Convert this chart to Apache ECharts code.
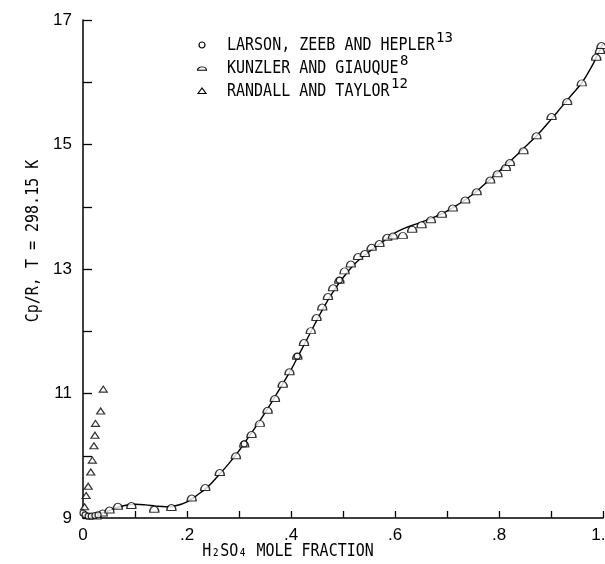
<!DOCTYPE html>
<html>
<head>
<meta charset="utf-8">
<script src="https://cdn.jsdelivr.net/npm/echarts@6/dist/echarts.min.js"></script>
<style>
  html, body { margin: 0; padding: 0; background: #fff; }
  #chart { width: 605px; height: 564px; }
</style>
</head>
<body>
<div id="chart"></div>
<script>
// Smoothed heat-capacity curve, Cp/R vs. H2SO4 mole fraction at 298.15 K
const curveX = [0, 0.01, 0.02, 0.04, 0.06, 0.08, 0.10, 0.12, 0.14, 0.16, 0.18, 0.20, 0.22, 0.24,
  0.26, 0.28, 0.30, 0.32, 0.34, 0.36, 0.38, 0.40, 0.42, 0.44, 0.46, 0.48, 0.50, 0.52, 0.54,
  0.56, 0.58, 0.60, 0.62, 0.64, 0.66, 0.68, 0.70, 0.72, 0.74, 0.76, 0.78, 0.80, 0.82, 0.84,
  0.86, 0.88, 0.90, 0.92, 0.94, 0.96, 0.98, 0.99, 1.00];
const curveY = [9.10, 9.05, 9.05, 9.09, 9.15, 9.20, 9.22, 9.21, 9.19, 9.18, 9.20, 9.26, 9.37, 9.50,
  9.68, 9.87, 10.08, 10.32, 10.56, 10.82, 11.10, 11.38, 11.70, 12.02, 12.34, 12.62, 12.86, 13.06, 13.21,
  13.34, 13.46, 13.58, 13.66, 13.72, 13.78, 13.85, 13.93, 14.03, 14.14, 14.27, 14.42, 14.57, 14.72, 14.88,
  15.04, 15.21, 15.40, 15.60, 15.80, 16.00, 16.28, 16.45, 16.62];

// Larson, Zeeb and Hepler
const larsonX = [0.000, 0.004, 0.010, 0.016, 0.023, 0.029, 0.310, 0.412, 0.493];
const larsonY = [9.08, 9.05, 9.03, 9.03, 9.04, 9.05, 10.19, 11.60, 12.82];

// Kunzler and Giauque
const kunzlerX = [0.026, 0.038, 0.051, 0.067, 0.093, 0.137, 0.170, 0.209, 0.235, 0.263, 0.294,
  0.310, 0.324, 0.340, 0.355, 0.369, 0.384, 0.397, 0.412, 0.425, 0.438, 0.449, 0.460, 0.471,
  0.481, 0.493, 0.503, 0.515, 0.529, 0.542, 0.555, 0.570, 0.585, 0.596, 0.615, 0.633, 0.651,
  0.669, 0.690, 0.711, 0.735, 0.757, 0.783, 0.797, 0.813, 0.821, 0.847, 0.872, 0.901, 0.931,
  0.959, 0.987, 0.994, 0.997];
const kunzlerY = [9.03, 9.08, 9.13, 9.19, 9.20, 9.14, 9.17, 9.32, 9.49, 9.73, 10.00,
  10.19, 10.34, 10.52, 10.73, 10.92, 11.15, 11.35, 11.60, 11.82, 12.01, 12.22, 12.39, 12.56,
  12.70, 12.82, 12.97, 13.08, 13.20, 13.25, 13.35, 13.41, 13.51, 13.53, 13.54, 13.64, 13.71,
  13.79, 13.88, 13.98, 14.11, 14.24, 14.43, 14.53, 14.63, 14.71, 14.90, 15.14, 15.45, 15.69,
  15.99, 16.40, 16.51, 16.59];

// Randall and Taylor
const randallX = [0.003, 0.006, 0.010, 0.015, 0.018, 0.021, 0.023, 0.024, 0.034, 0.039];
const randallY = [9.18, 9.36, 9.51, 9.74, 9.93, 10.16, 10.33, 10.52, 10.72, 11.07];

const xTickLabels = { '0': '0', '0.2': '.2', '0.4': '.4', '0.6': '.6', '0.8': '.8', '1': '1.0' };
const yTickLabels = { '9': '9', '11': '11', '13': '13', '15': '15', '17': '17' };

const seriesNames = ['LARSON, ZEEB AND HEPLER', 'KUNZLER AND GIAUQUE', 'RANDALL AND TAYLOR'];
const seriesRefs = ['13', '8', '12'];

const zip = (xs, ys) => xs.map((x, i) => [x, ys[i]]);

const domePath = 'path://M0,10 C0,-2.5 14,-2.5 14,10 Z';
const mono = '"DejaVu Sans Mono", "Liberation Mono", monospace';
const sans = '"Liberation Sans Narrow", "Liberation Sans", Arial, sans-serif';
const markerStyle = { color: '#fff', borderColor: '#000', borderWidth: 1.2 };

const chart = echarts.init(document.getElementById('chart'), null, { renderer: 'canvas' });

// legend rows drawn as graphic elements so the reference numbers can be superscripted
const legendRows = [];
const legendSymbols = [
  { type: 'circle', shape: { cx: 0, cy: 0, r: 3 } },
  { type: 'sector', scaleY: 0.75, shape: { cx: 0, cy: 3, r: 4.5, r0: 0, startAngle: Math.PI, endAngle: 2 * Math.PI } },
  { type: 'polygon', shape: { points: [[-4, 2.5], [0, -3], [4, 2.5]] } }
];
seriesNames.forEach((name, i) => {
  const cy = 45 + i * 23;
  legendRows.push(Object.assign({}, legendSymbols[i], {
    x: 202, y: cy,
    style: { fill: '#fff', stroke: '#000', lineWidth: 1.2 }
  }));
  legendRows.push({
    type: 'text', x: 227, y: cy, scaleY: 1.2,
    style: { text: name, font: '15px ' + mono, fill: '#000', textVerticalAlign: 'middle' }
  });
  legendRows.push({
    type: 'text', x: 227 + name.length * 9 + 2, y: cy - 7,
    style: { text: seriesRefs[i], font: '14px ' + mono, fill: '#000', textVerticalAlign: 'middle' }
  });
});

chart.setOption({
  animation: false,
  backgroundColor: '#fff',
  grid: { left: 83, right: 2, top: 20, bottom: 46, containLabel: false, outerBoundsMode: 'none' },
  xAxis: {
    type: 'value', min: 0, max: 1, interval: 0.1,
    axisLine: { show: true, lineStyle: { color: '#000', width: 1.5 } },
    axisTick: { show: true, inside: true, length: 7, lineStyle: { color: '#000', width: 1.3 } },
    splitLine: { show: false },
    axisLabel: {
      margin: 9, color: '#000', fontSize: 17, fontFamily: sans,
      formatter: v => xTickLabels[String(Math.round(v * 10) / 10)] || ''
    }
  },
  yAxis: {
    type: 'value', min: 9, max: 17, interval: 1,
    axisLine: { show: true, lineStyle: { color: '#000', width: 1.5 } },
    axisTick: { show: true, inside: true, length: 9, lineStyle: { color: '#000', width: 1.3 } },
    splitLine: { show: false },
    axisLabel: {
      margin: 11, color: '#000', fontSize: 17, fontFamily: sans,
      formatter: v => yTickLabels[String(Math.round(v))] || ''
    }
  },
  graphic: [
    {
      type: 'text', x: 33, y: 241, rotation: Math.PI / 2, scaleY: 1.2,
      style: { text: 'Cp/R, T = 298.15 K', font: '15px ' + mono, fill: '#000',
        textAlign: 'center', textVerticalAlign: 'middle' }
    },
    {
      type: 'text', x: 288, y: 551, scaleY: 1.2,
      style: { text: 'H\u2082SO\u2084 MOLE FRACTION', font: '15px ' + mono, fill: '#000',
        textAlign: 'center', textVerticalAlign: 'middle' }
    }
  ].concat(legendRows),
  series: [
    {
      type: 'line', data: zip(curveX, curveY), smooth: 0.4, symbol: 'none',
      lineStyle: { color: '#000', width: 1.4 }, z: 1
    },
    {
      name: seriesNames[0], type: 'scatter', data: zip(larsonX, larsonY),
      symbol: 'circle', symbolSize: 6, itemStyle: markerStyle, clip: false, z: 3
    },
    {
      name: seriesNames[1], type: 'scatter', data: zip(kunzlerX, kunzlerY),
      symbol: domePath, symbolSize: [9, 6], itemStyle: markerStyle, clip: false, z: 2
    },
    {
      name: seriesNames[2], type: 'scatter', data: zip(randallX, randallY),
      symbol: 'triangle', symbolSize: [8, 6], itemStyle: markerStyle, clip: false, z: 2
    }
  ]
});
</script>
</body>
</html>
